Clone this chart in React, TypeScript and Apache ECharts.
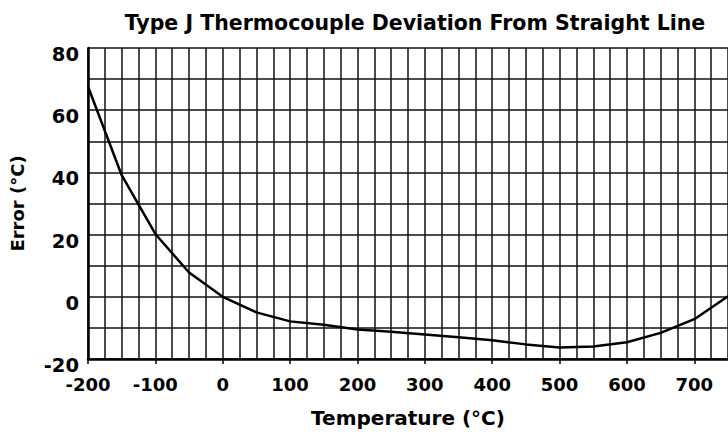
import React, { useEffect, useRef } from "react";
import * as echarts from "echarts";

const temperatures = [-200, -150, -100, -50, 0, 50, 100, 150, 200, 250, 300, 350, 400, 450, 500, 550, 600, 650, 700, 750];
const errors = [67.6, 39.1, 20.2, 7.8, 0, -5.0, -7.9, -9.0, -10.5, -11.2, -12.1, -13.0, -14.0, -15.3, -16.3, -16.0, -14.6, -11.6, -7.2, 0.2];

const titleText = "Type J Thermocouple Deviation From Straight Line";
const xName = "Temperature (°C)";
const yName = "Error (°C)";

const FONT = "DejaVu Sans";

export default function App() {
  const ref = useRef<HTMLDivElement>(null);
  useEffect(() => {
    if (!ref.current) return;
    const chart = echarts.init(ref.current, null, { renderer: "svg" });
    const data = temperatures.map((t, i) => [t, errors[i]]);
    chart.setOption({
      animation: false,
      backgroundColor: "#fff",
      title: {
        text: titleText,
        left: 410,
        top: 7,
        textAlign: "center",
        textStyle: { fontFamily: FONT, fontWeight: "bold", fontSize: 20.5, color: "#000" },
      },
      grid: { left: 87, top: 48, width: 646, height: 311, show: false },
      xAxis: [
        {
          type: "value",
          min: -200,
          max: 750,
          interval: 25,
          axisLine: { show: false },
          axisTick: { show: false },
          axisLabel: { show: false },
          splitLine: { show: true, lineStyle: { color: "#111", width: 1.5 } },
        },
        {
          type: "value",
          position: "bottom",
          min: -200,
          max: 750,
          interval: 100,
          name: xName,
          nameLocation: "middle",
          nameGap: 49,
          nameTextStyle: { fontFamily: FONT, fontWeight: "bold", fontSize: 20, color: "#000" },
          axisLine: { show: true, onZero: false, lineStyle: { color: "#000", width: 2.5 } },
          axisTick: { show: true, length: 5, lineStyle: { color: "#000", width: 1.5 } },
          axisLabel: {
            showMaxLabel: false,
            margin: 16,
            fontFamily: FONT,
            fontWeight: "bold",
            fontSize: 18,
            color: "#000",
          },
          splitLine: { show: false },
        },
      ],
      yAxis: {
        type: "value",
        min: -20,
        max: 80,
        interval: 10,
        name: yName,
        nameLocation: "middle",
        nameGap: 62,
        nameTextStyle: { fontFamily: FONT, fontWeight: "bold", fontSize: 18, color: "#000" },
        axisLine: { show: true, onZero: false, lineStyle: { color: "#000", width: 2.5 } },
        axisTick: { show: false },
        axisLabel: {
          margin: 9,
          formatter: (v: number) => (v % 20 === 0 ? String(v) : ""),
          fontFamily: FONT,
          fontWeight: "bold",
          fontSize: 19.5,
          color: "#000",
          verticalAlign: "top",
          lineHeight: 13,
        },
        splitLine: { show: true, lineStyle: { color: "#111", width: 1.5 } },
      },
      series: [
        {
          type: "line",
          xAxisIndex: 0,
          data,
          showSymbol: false,
          symbol: "none",
          lineStyle: { color: "#000", width: 2.5 },
        },
      ],
    });
    return () => chart.dispose();
  }, []);
  return (
    <div
      ref={ref}
      style={{ position: "absolute", left: 0, top: 0, width: 728, height: 434, overflow: "hidden" }}
    />
  );
}
